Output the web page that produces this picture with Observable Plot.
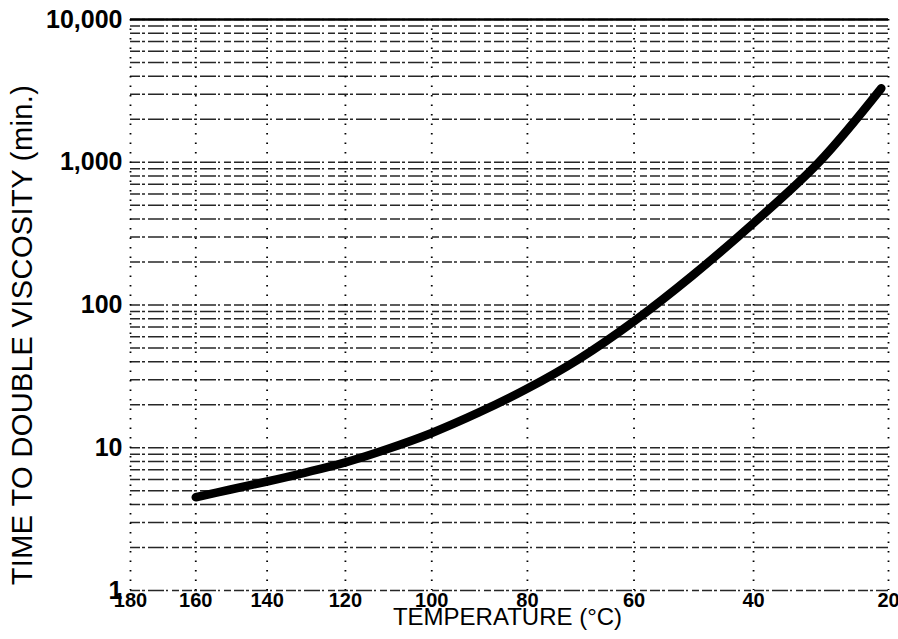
<!DOCTYPE html>
<html>
<head>
<meta charset="utf-8">
<script src="https://cdn.jsdelivr.net/npm/d3@7"></script>
<script src="https://cdn.jsdelivr.net/npm/@observablehq/plot@0.6"></script>
<style>
  html, body { margin: 0; padding: 0; background: #fff; }
  #chart svg { display: block; }
  .ytitle text { letter-spacing: 0.4px; }
</style>
</head>
<body>
<div id="chart"></div>
<script>
// ---- data ----
const temperatures   = [160, 150, 140, 130, 120, 110, 100, 90, 80, 70, 60, 50, 40, 30, 21];
const doublingTimes  = [4.5, 5.1, 5.8, 6.7, 7.9, 9.8, 12.7, 17.6, 26, 42, 77, 160, 375, 1000, 3300];
const xTickTemps     = [180, 160, 140, 120, 100, 80, 60, 40, 20];
const yTickValues    = [1, 10, 100, 1000, 10000];
const yGridValues    = [1, 2, 3, 4, 5, 6, 7, 8, 9,
                        10, 20, 30, 40, 50, 60, 70, 80, 90,
                        100, 200, 300, 400, 500, 600, 700, 800, 900,
                        1000, 2000, 3000, 4000, 5000, 6000, 7000, 8000, 9000,
                        10000];
const xLabel = "TEMPERATURE (°C)";
const yLabel = "TIME TO DOUBLE VISCOSITY (min.)";

// reciprocal-temperature (Arrhenius-type) axis; offset fitted to the printed scale
const OFFSET = 290;
const inv = t => 1000 / (t + OFFSET);

const data = temperatures.map((t, i) => ({t, v: doublingTimes[i]}));

const chart = Plot.plot({
  width: 898,
  height: 639,
  marginLeft: 130,
  marginRight: 10,
  marginTop: 19,
  marginBottom: 49,
  style: {background: "#fff", color: "#000", fontFamily: "'Liberation Sans', Arial, sans-serif", overflow: "visible"},
  x: {domain: [inv(180), inv(20)]},
  y: {type: "log", domain: [1, 10000]},
  marks: [
    // horizontal log grid (dashed, scanned look)
    Plot.ruleY(yGridValues, {stroke: "#000", strokeWidth: 1.5, strokeOpacity: 0.85,
      strokeDasharray: "10,2,3,3,16,2,2,4,7,3"}),
    // vertical grid (dotted)
    Plot.ruleX(xTickTemps, {x: inv, stroke: "#000", strokeWidth: 1.8, strokeDasharray: "1.5,8"}),
    // heavy top border
    Plot.ruleY([10000], {stroke: "#000", strokeWidth: 2.6}),
    // curve
    Plot.line(data, {x: d => inv(d.t), y: "v", stroke: "#000", strokeWidth: 8.5,
      strokeLinecap: "round", strokeLinejoin: "round", curve: "catmull-rom"}),
    // axes
    Plot.axisX(xTickTemps.map(inv), {
      tickSize: 0, tickPadding: 2, label: null,
      tickFormat: v => String(Math.round(1000 / v - OFFSET)),
      fontSize: 20, fontWeight: "bold"
    }),
    Plot.axisY(yTickValues, {
      tickSize: 0, tickPadding: 8, label: null,
      tickFormat: d3.format(","),
      fontSize: 25, fontWeight: "bold"
    }),
    // axis titles
    Plot.text([xLabel], {text: d => d, frameAnchor: "bottom", dy: 27, dx: -2,
      fontSize: 24, lineAnchor: "middle", textAnchor: "middle"}),
    Plot.text([yLabel], {text: d => d, frameAnchor: "left", rotate: -90, dx: -108, dy: 30,
      fontSize: 29, lineAnchor: "middle", textAnchor: "middle", className: "ytitle"})
  ]
});

document.getElementById("chart").appendChild(chart);
</script>
</body>
</html>
